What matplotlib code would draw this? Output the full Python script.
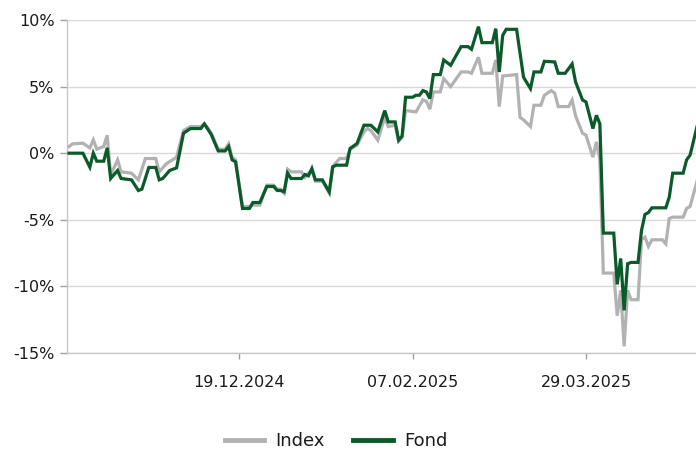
import matplotlib
matplotlib.use("Agg")
import matplotlib.pyplot as plt
import matplotlib.dates as mdates
import pandas as pd
from matplotlib.ticker import FixedLocator, FuncFormatter

# ---- data (percent performance) ----
fond_dates = [
    "2024-10-31", "2024-11-04", "2024-11-06", "2024-11-07", "2024-11-08", "2024-11-10",
    "2024-11-11", "2024-11-12", "2024-11-14", "2024-11-15", "2024-11-18", "2024-11-20",
    "2024-11-21", "2024-11-23", "2024-11-25", "2024-11-26", "2024-11-27", "2024-11-29",
    "2024-12-01", "2024-12-03", "2024-12-05", "2024-12-08", "2024-12-09", "2024-12-10",
    "2024-12-11", "2024-12-13", "2024-12-15", "2024-12-16", "2024-12-17", "2024-12-18",
    "2024-12-20", "2024-12-22", "2024-12-23", "2024-12-25", "2024-12-27", "2024-12-29",
    "2024-12-30", "2024-12-31", "2025-01-01", "2025-01-02", "2025-01-03", "2025-01-06",
    "2025-01-07", "2025-01-08", "2025-01-09", "2025-01-10", "2025-01-12", "2025-01-14",
    "2025-01-15", "2025-01-16", "2025-01-19", "2025-01-20", "2025-01-22", "2025-01-24",
    "2025-01-26", "2025-01-28", "2025-01-30", "2025-01-31", "2025-02-02", "2025-02-03",
    "2025-02-04", "2025-02-05", "2025-02-07", "2025-02-08", "2025-02-09", "2025-02-10",
    "2025-02-11", "2025-02-12", "2025-02-13", "2025-02-15", "2025-02-16", "2025-02-18",
    "2025-02-21", "2025-02-23", "2025-02-24", "2025-02-26", "2025-02-27", "2025-03-02",
    "2025-03-03", "2025-03-04", "2025-03-05", "2025-03-06", "2025-03-09", "2025-03-10",
    "2025-03-11", "2025-03-13", "2025-03-14", "2025-03-16", "2025-03-17", "2025-03-20",
    "2025-03-21", "2025-03-23", "2025-03-25", "2025-03-26", "2025-03-28", "2025-03-29",
    "2025-03-31", "2025-04-01", "2025-04-02", "2025-04-03", "2025-04-06", "2025-04-07",
    "2025-04-08", "2025-04-09", "2025-04-10", "2025-04-11", "2025-04-13", "2025-04-14",
    "2025-04-15", "2025-04-16", "2025-04-17", "2025-04-21", "2025-04-22", "2025-04-23",
    "2025-04-26", "2025-04-27", "2025-04-28", "2025-04-30",
]
fond_values = [
    0.0, 0.0, -1.05, 0.0, -0.6, -0.6,
    0.4, -1.9, -1.3, -1.9, -2.0, -2.8,
    -2.7, -1.07, -1.07, -2.0, -1.9, -1.3,
    -1.1, 1.5, 1.85, 1.85, 2.2, 1.8,
    1.4, 0.17, 0.17, 0.5, -0.5, -0.65,
    -4.15, -4.15, -3.7, -3.7, -2.5, -2.5,
    -2.8, -2.8, -2.9, -1.5, -1.9, -1.9,
    -1.6, -1.7, -1.15, -2.0, -2.0, -2.9,
    -1.03, -0.9, -0.9, 0.35, 0.73, 2.1,
    2.1, 1.6, 3.2, 2.35, 2.35, 0.98,
    1.28, 4.2, 4.2, 4.35, 4.35, 4.7,
    4.6, 4.1, 5.9, 5.9, 7.0, 6.6,
    8.0, 8.0, 7.8, 9.5, 8.3, 8.3,
    9.35, 6.1, 8.85, 9.3, 9.3, 7.5,
    5.7, 4.85, 6.1, 6.1, 6.9, 6.85,
    6.0, 6.0, 6.7, 5.35, 4.0, 3.85,
    1.85, 2.85, 2.2, -6.0, -6.0, -9.85,
    -7.9, -11.8, -8.3, -8.2, -8.2, -5.8,
    -4.6, -4.45, -4.1, -4.1, -3.3, -1.5,
    -1.5, -0.5, -0.15, 2.0,
]

index_dates = [
    "2024-10-31", "2024-11-01", "2024-11-04", "2024-11-06", "2024-11-07", "2024-11-08",
    "2024-11-10", "2024-11-11", "2024-11-12", "2024-11-14", "2024-11-15", "2024-11-18",
    "2024-11-20", "2024-11-22", "2024-11-25", "2024-11-26", "2024-11-28", "2024-12-01",
    "2024-12-03", "2024-12-05", "2024-12-08", "2024-12-09", "2024-12-10", "2024-12-11",
    "2024-12-13", "2024-12-15", "2024-12-16", "2024-12-17", "2024-12-18", "2024-12-20",
    "2024-12-22", "2024-12-23", "2024-12-25", "2024-12-27", "2024-12-29", "2024-12-30",
    "2024-12-31", "2025-01-01", "2025-01-02", "2025-01-03", "2025-01-06", "2025-01-07",
    "2025-01-08", "2025-01-09", "2025-01-10", "2025-01-12", "2025-01-14", "2025-01-15",
    "2025-01-17", "2025-01-19", "2025-01-20", "2025-01-22", "2025-01-24", "2025-01-25",
    "2025-01-26", "2025-01-28", "2025-01-30", "2025-01-31", "2025-02-02", "2025-02-03",
    "2025-02-04", "2025-02-05", "2025-02-08", "2025-02-10", "2025-02-11", "2025-02-12",
    "2025-02-13", "2025-02-15", "2025-02-16", "2025-02-18", "2025-02-21", "2025-02-23",
    "2025-02-24", "2025-02-26", "2025-02-27", "2025-03-02", "2025-03-03", "2025-03-04",
    "2025-03-05", "2025-03-09", "2025-03-10", "2025-03-11", "2025-03-13", "2025-03-14",
    "2025-03-16", "2025-03-17", "2025-03-19", "2025-03-20", "2025-03-21", "2025-03-24",
    "2025-03-25", "2025-03-26", "2025-03-28", "2025-03-29", "2025-03-31", "2025-04-01",
    "2025-04-02", "2025-04-03", "2025-04-06", "2025-04-07", "2025-04-08", "2025-04-09",
    "2025-04-10", "2025-04-11", "2025-04-13", "2025-04-14", "2025-04-15", "2025-04-16",
    "2025-04-17", "2025-04-20", "2025-04-21", "2025-04-22", "2025-04-23", "2025-04-26",
    "2025-04-27", "2025-04-28", "2025-04-30",
]
index_values = [
    0.5, 0.7, 0.75, 0.4, 1.0, 0.3,
    0.5, 1.35, -1.65, -0.5, -1.4, -1.5,
    -2.0, -0.4, -0.4, -1.4, -0.8, -0.3,
    1.7, 2.0, 2.0, 2.2, 1.9, 1.5,
    0.3, 0.3, 0.7, -0.3, -0.5, -4.0,
    -4.0, -3.9, -3.9, -2.4, -2.4, -2.7,
    -2.7, -3.0, -1.2, -1.4, -1.4, -1.8,
    -1.5, -1.3, -2.1, -2.1, -3.0, -1.0,
    -0.4, -0.4, 0.3, 0.6, 1.6, 1.85,
    1.7, 0.97, 2.7, 2.0, 2.1, 0.9,
    1.2, 3.2, 3.1, 4.0, 3.9, 3.3,
    4.6, 4.6, 5.6, 5.0, 6.1, 6.1,
    6.0, 7.2, 6.0, 6.0, 7.0, 3.5,
    5.8, 5.9, 2.7, 2.5, 2.0, 3.6,
    3.6, 4.35, 4.7, 4.5, 3.5, 3.5,
    4.0, 2.8, 1.5, 1.35, -0.3, 0.85,
    -0.5, -9.0, -9.0, -12.2, -10.3, -14.5,
    -10.3, -11.0, -11.0, -6.5, -6.3, -7.0,
    -6.5, -6.5, -6.8, -4.9, -4.8, -4.8,
    -4.15, -4.0, -2.1,
]

y_ticks = [-15, -10, -5, 0, 5, 10]
x_ticks = ["2024-12-19", "2025-02-07", "2025-03-29"]
series_names = ["Index", "Fond"]

# ---- styling ----
GRAY = "#b2b2b2"
GREEN = "#0b5a2a"
plt.rcParams["font.family"] = ["DejaVu Sans"]

fig = plt.figure(figsize=(6.96, 4.5), dpi=100)
ax = fig.add_axes([67 / 696, 1 - 353 / 450, 1 - 67 / 696, (353 - 20) / 450])

ax.plot(pd.to_datetime(index_dates), index_values, color=GRAY, lw=2.3,
        label=series_names[0], solid_joinstyle="miter", zorder=3)
ax.plot(pd.to_datetime(fond_dates), fond_values, color=GREEN, lw=2.3,
        label=series_names[1], solid_joinstyle="miter", zorder=4)

ax.set_xlim(pd.Timestamp("2024-10-30 10:00"), pd.Timestamp("2025-04-29 17:00"))
ax.set_ylim(-15, 10)

ax.yaxis.set_major_locator(FixedLocator(y_ticks))
ax.yaxis.set_major_formatter(FuncFormatter(lambda v, p: f"{int(v)}%"))
ax.set_xticks(mdates.date2num(pd.to_datetime(x_ticks)))
ax.xaxis.set_major_formatter(mdates.DateFormatter("%d.%m.%Y"))

ax.grid(axis="y", color="#d9d9d9", lw=1.0)
ax.set_axisbelow(True)
for s in ["top", "right"]:
    ax.spines[s].set_visible(False)
for s in ["left", "bottom"]:
    ax.spines[s].set_color("#c8c8c8")
    ax.spines[s].set_linewidth(1.0)

ax.tick_params(axis="y", length=5, width=1, color="#a0a0a0", pad=4,
               labelsize=11.5, labelcolor="#1a1a1a")
ax.tick_params(axis="x", length=4, width=1, color="#a0a0a0", pad=12,
               labelsize=11.5, labelcolor="#1a1a1a")

leg = fig.legend(loc="center", bbox_to_anchor=(336 / 696, 1 - 441 / 450),
                 ncol=2, frameon=False, fontsize=13, handlelength=2.2,
                 handletextpad=0.6, columnspacing=1.6)
for line in leg.get_lines():
    line.set_linewidth(3.5)
for t in leg.get_texts():
    t.set_color("#1a1a1a")

fig.savefig("out.png", dpi=100)
